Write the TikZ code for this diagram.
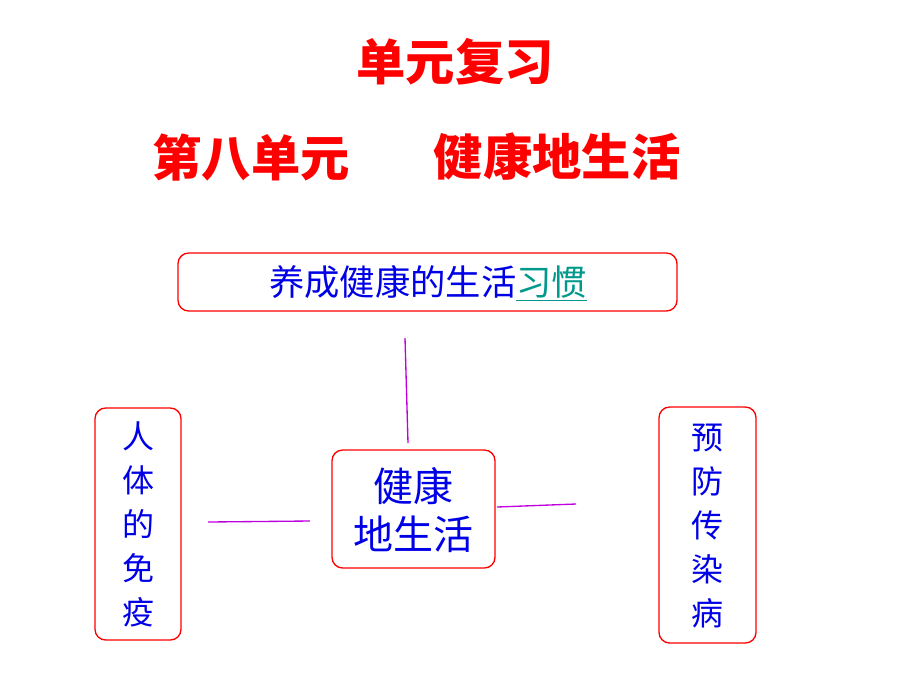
\documentclass[tikz,border=0pt]{standalone}
\usepackage{fontspec}
\newfontfamily\cjk{Noto Sans CJK SC}
\newfontfamily\cjkb{Noto Sans CJK SC}[BoldFont={* Bold}]
\begin{document}
\begin{tikzpicture}[x=0.75pt,y=-0.75pt,
  box/.style={draw=red,line width=1pt,rounded corners=8pt,fill=white},
  conn/.style={draw={rgb,255:red,190;green,0;blue,220},line width=1pt},
  title/.style={text=red,font=\cjk\bfseries\fontsize{37}{40}\selectfont},
  btext/.style={text={rgb,255:red,0;green,0;blue,230},font=\cjk\fontsize{24}{33}\selectfont,align=center}]
\useasboundingbox (0,0) rectangle (920,690);
\node[title] (t1) at (455,62) {单元复习};
\node[title] (t2) at (251,157) {第八单元};
\node[title] (t3) at (557,157) {健康地生活};
\draw[box] (178,253) rectangle (677,311);
\node[btext,font=\cjk\fontsize{26.5}{30}\selectfont] (top) at (428,283) {养成健康的生活\textcolor[rgb]{0,0.6,0.55}{\underline{习惯}}};
\draw[box] (95,408) rectangle (181,640);
\node[btext] (left) at (138,524) {人\\体\\的\\免\\疫};
\draw[box] (332,450) rectangle (495,568);
\node[btext,font=\cjk\fontsize{30}{36}\selectfont] (mid) at (413,510) {健康\\地生活};
\draw[box] (659,407) rectangle (756,643);
\node[btext] (right) at (707,526) {预\\防\\传\\染\\病};
\coordinate (a1) at (405,338); \coordinate (a2) at (408,443);
\coordinate (b1) at (208,522); \coordinate (b2) at (310,521);
\coordinate (c1) at (497,507); \coordinate (c2) at (576,504);
\draw[conn] (a1) -- (a2);
\draw[conn] (b1) -- (b2);
\draw[conn] (c1) -- (c2);
\end{tikzpicture}
\end{document}
